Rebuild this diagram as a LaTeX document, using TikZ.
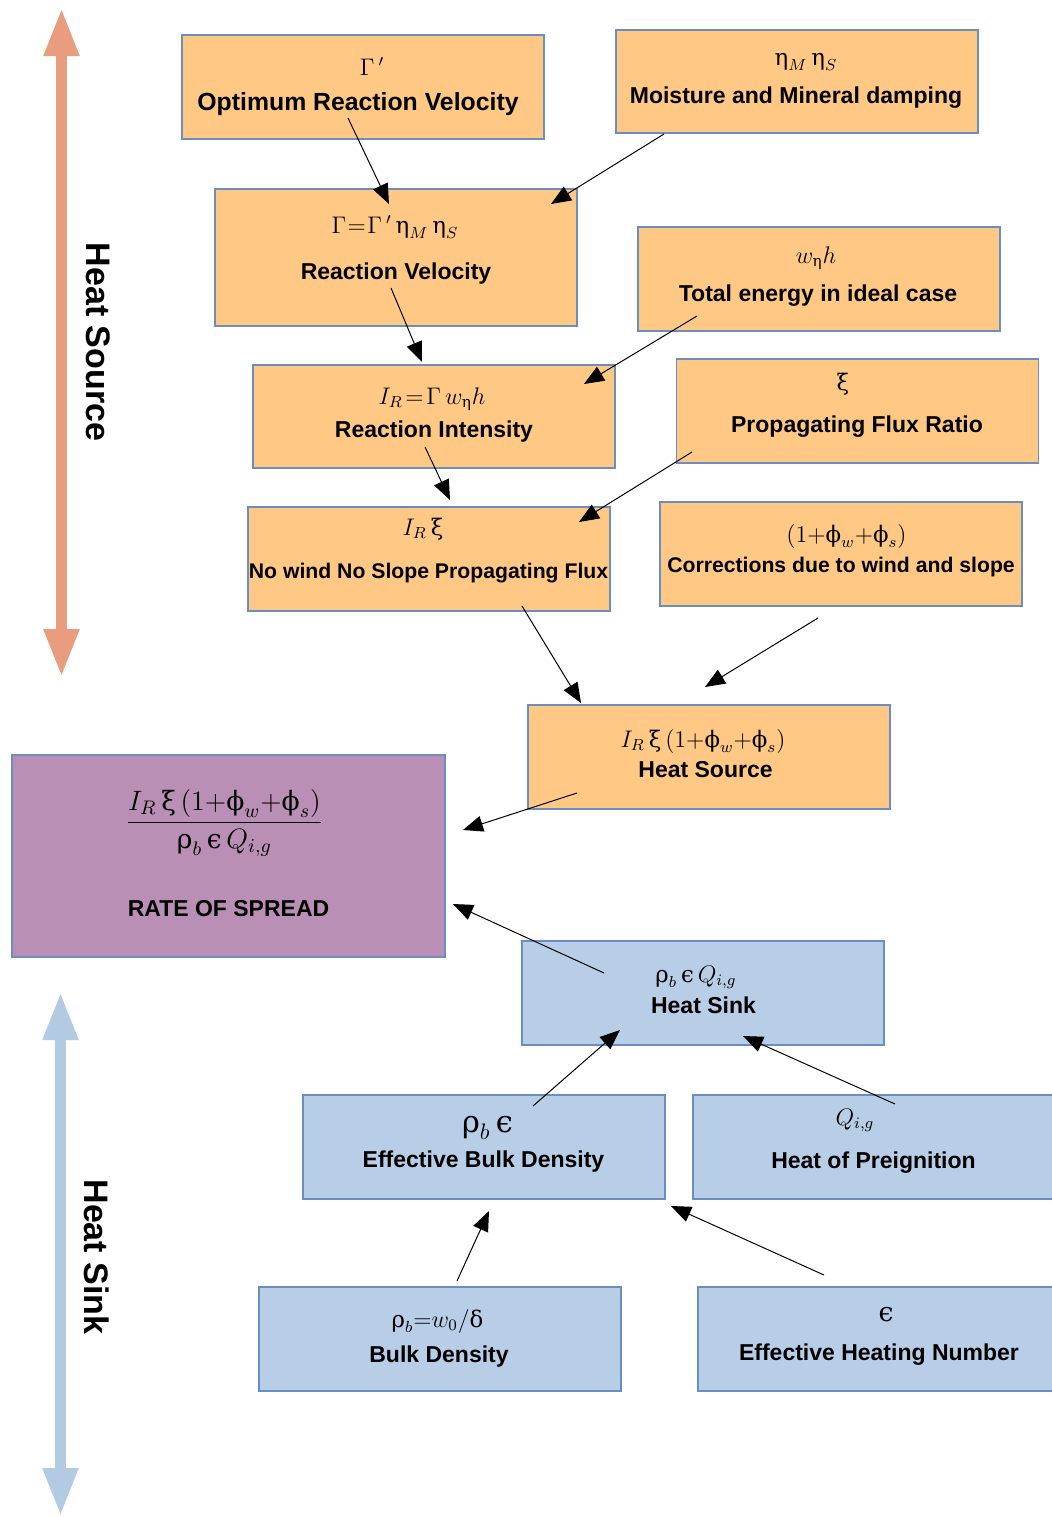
\RequirePackage{fix-cm}
\documentclass[tikz,border=0pt]{standalone}
\usepackage{fontspec}
\setsansfont{Liberation Sans}
\newfontfamily\grk[Scale=0.95]{DejaVu Serif}
\newcommand\gr[1]{\mathord{\hbox{\grk #1}}}
\newcommand\sgr[1]{\mathord{\hbox{\grk\fontsize{8}{9}\selectfont #1}}}
\usetikzlibrary{arrows.meta}
\definecolor{orangefill}{HTML}{FFC985}
\definecolor{purplefill}{HTML}{BA8FB5}
\definecolor{bluefill}{HTML}{B8CDE6}
\definecolor{boxline}{HTML}{6C8EBF}
\definecolor{srcarrow}{HTML}{EA9C7F}
\definecolor{sinkarrow}{HTML}{B3CAE3}
\tikzset{
  box/.style={draw=boxline, line width=0.6pt, minimum width=181pt, minimum height=52pt, inner sep=0pt},
  obox/.style={box, fill=orangefill},
  bbox/.style={box, fill=bluefill},
  lbl/.style={font=\sffamily\bfseries\fontsize{11.5}{13}\selectfont, inner sep=0pt, anchor=base},
  lblsmall/.style={lbl, font=\sffamily\bfseries\fontsize{10.6}{12}\selectfont},
  fml/.style={font=\fontsize{12}{14}\selectfont, inner sep=0pt, anchor=base},
  conn/.style={-{Triangle[length=10pt,width=8pt]}, line width=0.5pt},
  bigarrow/.style={line width=5.5pt, {Triangle[length=24pt,width=16.5pt]}-{Triangle[length=24pt,width=16.5pt]}},
  sidelbl/.style={font=\sffamily\bfseries\fontsize{17}{20}\selectfont, inner sep=0pt, rotate=-90}
}
\begin{document}
\begin{tikzpicture}[x=0.5pt,y=-0.5pt]
\useasboundingbox (0,0) rectangle (1051,1517);
% big side arrows
\coordinate (srcTop) at (61.5,8);
\coordinate (srcBot) at (61.5,677);
\draw[bigarrow, draw=srcarrow, fill=srcarrow] (srcTop) -- (srcBot);
\node[sidelbl] (srcLbl) at (98,342) {Heat Source};
\coordinate (sinkTop) at (60.5,992);
\coordinate (sinkBot) at (60.5,1516);
\draw[bigarrow, draw=sinkarrow, fill=sinkarrow] (sinkTop) -- (sinkBot);
\node[sidelbl] (sinkLbl) at (97,1257) {Heat Sink};

% boxes
\node[obox] (opt) at (363,87) {};
\node[fml] (optF) at (372,75) {$\Gamma\,'$};
\node[lbl, font=\sffamily\bfseries\fontsize{12.4}{14}\selectfont] (optL) at (358,110) {Optimum Reaction Velocity};

\node[obox, minimum height=51.5pt] (moist) at (797,81.5) {};
\node[fml] (moistF) at (806,65) {$\gr{η}_M\,\gr{η}_S$};
\node[lbl] (moistL) at (796,103) {Moisture and Mineral damping};

\node[obox, minimum height=68.5pt] (rv) at (396,257.5) {};
\node[fml] (rvF) at (395,233) {$\Gamma\mkern1mu{=}\mkern1mu\Gamma\,'\,\gr{η}_M\,\gr{η}_S$};
\node[lbl] (rvL) at (396,279) {Reaction Velocity};

\node[obox] (tot) at (819,279) {};
\node[fml] (totF) at (816,263) {$w_{\sgr{η}}h$};
\node[lbl] (totL) at (818,301) {Total energy in ideal case};

\node[obox, minimum height=51.5pt] (ri) at (434,416.5) {};
\node[fml] (riF) at (432,404) {$I_R\mkern2mu{=}\mkern2mu\Gamma\,w_{\sgr{η}}h$};
\node[lbl] (riL) at (434,437) {Reaction Intensity};

\node[obox] (pfr) at (857.5,411) {};
\node[fml] (pfrF) at (843,390) {$\gr{ξ}$};
\node[lbl] (pfrL) at (857,432) {Propagating Flux Ratio};

\node[obox] (nw) at (429,559) {};
\node[fml] (nwF) at (423,535) {$I_R\,\gr{ξ}$};
\node[lblsmall] (nwL) at (428.5,578) {No wind No Slope Propagating Flux};

\node[obox] (corr) at (841,554) {};
\node[fml] (corrF) at (846.5,542) {$(1{+}\gr{ϕ}_w{+}\gr{ϕ}_s)$};
\node[lblsmall] (corrL) at (841,572) {Corrections due to wind and slope};

\node[obox] (hs) at (709,757) {};
\node[fml] (hsF) at (703,747) {$I_R\,\gr{ξ}\,(1{+}\gr{ϕ}_w{+}\gr{ϕ}_s)$};
\node[lbl] (hsL) at (705.5,777) {Heat Source};

\node[box, fill=purplefill, minimum width=216.5pt, minimum height=101pt] (ros) at (228.5,856) {};
\node[inner sep=0pt, font=\fontsize{14}{16}\selectfont] (rosF) at (224.5,823) {$\displaystyle\frac{I_R\,\hbox{\fontsize{14}{16}\grk ξ}\,(1{+}\hbox{\fontsize{14}{16}\grk ϕ}_w{+}\hbox{\fontsize{14}{16}\grk ϕ}_s)}{\hbox{\fontsize{14}{16}\grk ρ}_b\,\hbox{\fontsize{14}{16}\grk ϵ}\,Q_{i,g}}$};
\node[lbl] (rosL) at (228.5,916) {RATE OF SPREAD};

\node[bbox] (sink) at (703,993) {};
\node[fml] (sinkF) at (696,982) {$\gr{ρ}_b\,\gr{ϵ}\,Q_{i,g}$};
\node[lbl] (sinkL) at (703.5,1013) {Heat Sink};

\node[bbox] (ebd) at (484,1147) {};
\node[fml, font=\fontsize{16}{18}\selectfont] (ebdF) at (487.5,1132) {$\hbox{\fontsize{16}{18}\grk ρ}_b\,\hbox{\fontsize{16}{18}\grk ϵ}$};
\node[lbl] (ebdL) at (483.5,1167) {Effective Bulk Density};

\node[bbox] (hop) at (874,1147) {};
\node[fml] (hopF) at (855,1125) {$Q_{i,g}$};
\node[lbl] (hopL) at (873.5,1168) {Heat of Preignition};

\node[bbox] (bd) at (440,1339) {};
\node[fml] (bdF) at (437.5,1327) {$\gr{ρ}_b{=}w_0/\gr{δ}$};
\node[lbl] (bdL) at (439,1362) {Bulk Density};

\node[bbox] (ehn) at (879,1339) {};
\node[fml, font=\fontsize{14}{16}\selectfont] (ehnF) at (886,1321) {\grk ϵ};
\node[lbl] (ehnL) at (879,1360) {Effective Heating Number};

% connector end points
\coordinate (a1s) at (348,118);  \coordinate (a1e) at (389,204);
\coordinate (a2s) at (664,134);  \coordinate (a2e) at (551,204);
\coordinate (a3s) at (391,288);  \coordinate (a3e) at (422,362);
\coordinate (a4s) at (697,316);  \coordinate (a4e) at (584,384);
\coordinate (a5s) at (425,447);  \coordinate (a5e) at (450,500);
\coordinate (a6s) at (692,452);  \coordinate (a6e) at (579,522);
\coordinate (a7s) at (522,606);  \coordinate (a7e) at (581,703);
\coordinate (a8s) at (818,618);  \coordinate (a8e) at (705,687);
\coordinate (a9s) at (577,793);  \coordinate (a9e) at (463,830);
\coordinate (a10s) at (604,973); \coordinate (a10e) at (453,904);
\coordinate (a11s) at (533,1106); \coordinate (a11e) at (620,1030);
\coordinate (a12s) at (895,1104); \coordinate (a12e) at (743,1036);
\coordinate (a13s) at (457,1281); \coordinate (a13e) at (489,1211);
\coordinate (a14s) at (824,1275); \coordinate (a14e) at (671,1206);

\draw[conn] (a1s) -- (a1e);
\draw[conn] (a2s) -- (a2e);
\draw[conn] (a3s) -- (a3e);
\draw[conn] (a4s) -- (a4e);
\draw[conn] (a5s) -- (a5e);
\draw[conn] (a6s) -- (a6e);
\draw[conn] (a7s) -- (a7e);
\draw[conn] (a8s) -- (a8e);
\draw[conn] (a9s) -- (a9e);
\draw[conn] (a10s) -- (a10e);
\draw[conn] (a11s) -- (a11e);
\draw[conn] (a12s) -- (a12e);
\draw[conn] (a13s) -- (a13e);
\draw[conn] (a14s) -- (a14e);
\end{tikzpicture}
\end{document}
